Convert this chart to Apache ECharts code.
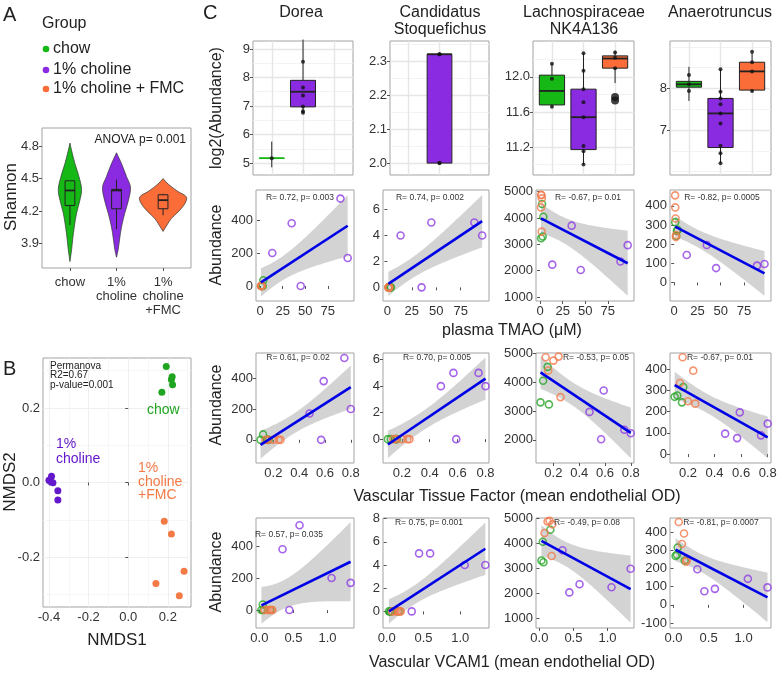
<!DOCTYPE html>
<html><head><meta charset="utf-8">
<script src="https://cdn.jsdelivr.net/npm/echarts@6/dist/echarts.min.js"></script>
<style>html,body{margin:0;padding:0;background:#fff}#main{width:780px;height:675px}</style>
</head><body><div id="main"></div>
<script>
// ================= DATA =================
const groupNames = ['chow', '1% choline', '1% choline + FMC'];
const violinLabels = ['chow', '1%\ncholine', '1%\ncholine\n+FMC'];

// Panel A: Shannon violins (level, relative density)
const violinChowLevels  = [3.73, 3.84, 3.93, 4.05, 4.18, 4.30, 4.40, 4.52, 4.64, 4.76, 4.83];
const violinChowDensity = [0, 5, 8, 13, 20, 30, 35, 27, 15, 5, 0];
const violinCholLevels  = [3.77, 3.84, 3.93, 4.05, 4.18, 4.30, 4.42, 4.52, 4.64, 4.70, 4.74];
const violinCholDensity = [0, 5, 9, 15, 25, 36, 42, 30, 15, 6, 0];
const violinFmcLevels   = [4.01, 4.07, 4.13, 4.19, 4.27, 4.33, 4.38, 4.45, 4.50];
const violinFmcDensity  = [0, 12, 25, 45, 66, 70, 45, 15, 0];
const shannonBoxChow = [4.07, 4.25, 4.39, 4.48, 4.48];
const shannonBoxChol = [4.03, 4.22, 4.39, 4.40, 4.49];
const shannonBoxFmc  = [4.16, 4.22, 4.30, 4.35, 4.36];
const anovaText = 'ANOVA p= 0.001';

// Panel B: NMDS
const nmdsChow    = [[0.192, 0.311], [0.222, 0.284], [0.218, 0.276], [0.224, 0.262], [0.170, 0.242]];
const nmdsCholine = [[-0.400, 0.006], [-0.387, 0.017], [-0.392, 0.003], [-0.380, -0.001], [-0.355, -0.022], [-0.355, -0.047]];
const nmdsFmc     = [[0.182, -0.104], [0.218, -0.138], [0.282, -0.238], [0.140, -0.271], [0.258, -0.304]];
const permanovaLines = ['Permanova', 'R2=0.67', 'p-value=0.001'];

// Panel C
const taxa = ['Dorea', 'Candidatus\nStoquefichus', 'Lachnospiraceae\nNK4A136', 'Anaerotruncus'];
// top row boxplots: [min, Q1, median, Q3, max] per group (null = absent)
const boxDorea   = [[4.85, 5.165, 5.17, 5.175, 5.75], [6.75, 6.97, 7.50, 7.90, 9.33], null];
const dotsDorea  = [[5.17], [9.33, 8.55, 7.65, 7.37, 6.98, 6.82, 6.76], []];
const boxStoq    = [null, [2.00, 2.00, 2.32, 2.32, 2.32], null];
const dotsStoq   = [[], [2.32, 2.32, 2.00, 2.00], []];
const boxLachno  = [[11.66, 11.68, 11.84, 12.02, 12.15], [11.00, 11.17, 11.54, 11.86, 12.27], [11.93, 12.10, 12.21, 12.24, 12.30]];
const dotsLachno = [[12.15, 11.98, 11.66], [12.27, 12.07, 11.86, 11.71, 11.54, 11.21, 11.15, 11.00], [12.22, 12.10, 12.28]];
const outliersLachno = [[], [], [11.73, 11.77]];
const boxAnaero  = [[7.70, 8.03, 8.10, 8.17, 8.52], [6.20, 6.58, 7.40, 7.76, 8.46], [7.92, 7.96, 8.41, 8.63, 8.88]];
const dotsAnaero = [[8.32, 8.10, 7.94], [8.46, 7.92, 7.76, 7.62, 7.40, 7.16, 6.62, 6.44, 6.20], [8.88, 8.63, 8.41, 7.94]];

// per-mouse predictors
const tmaoChow = [2.2, 3.6, 2.9, 1.1];
const tfChow   = [0.155, 0.12, 0.10, 0.165];
const vcamChow = [0.16, 0.05, 0.03, 0.06];
const tmaoChol = [13.5, 35, 45, 89, 97];
const tfChol   = [0.80, 0.59, 0.57, 0.75, 0.48];
const vcamChol = [1.06, 0.34, 0.44, 0.59, 1.34];
const tmaoFmc  = [1.5, 1.0, 2.0, 1.2, 1.8];
const tfFmc    = [0.14, 0.16, 0.20, 0.24, 0.255];
const vcamFmc  = [0.12, 0.075, 0.19, 0.15, 0.18];
// per-mouse abundances
const doreaChow  = [0, 35, 0, 0];
const stoqChow   = [0, 0, 0, 0];
const lachnoChow = [4530, 4050, 3300, 3230];
const anaeroChow = [243, 275, 269, 315];
const doreaChol  = [200, 380, 0, 530, 170];
const stoqChol   = [4, 0, 5, 5, 4];
const lachnoChol = [2230, 3710, 2025, 2350, 2970];
const anaeroChol = [143, 196, 75, 88, 96];
const doreaFmc   = [0, 0, 0, 0, 0];
const stoqFmc    = [0, 0, 0, 0, 0];
const lachnoFmc  = [4862, 4402, 4747, 4885, 3483];
const anaeroFmc  = [334, 455, 248, 392, 237];

const statsTMAO = ['R= 0.72, p= 0.003', 'R= 0.74, p= 0.002', 'R= -0.67, p= 0.01', 'R= -0.82, p= 0.0005'];
const statsTF   = ['R= 0.61, p= 0.02', 'R= 0.70, p= 0.005', 'R= -0.53, p= 0.05', 'R= -0.67, p= 0.01'];
const statsVCAM = ['R= 0.57, p= 0.035', 'R= 0.75, p= 0.001', 'R= -0.49, p= 0.08', 'R= -0.81, p= 0.0007'];
const xTitles = ['plasma TMAO (\u03bcM)', 'Vascular Tissue Factor (mean endothelial OD)', 'Vascular VCAM1 (mean endothelial OD)'];

// ================= STYLE =================
const FONT = 'Liberation Sans, Arial, Helvetica, sans-serif';
const FILL = ['#16b816', '#8a2be2', '#fa6c38'];
const PT   = ['#27a527', '#8f3de3', '#f27a4c'];
const NMDS = ['#1fa51f', '#6418cc', '#f47a45'];
const BAND = 'rgba(150,150,150,0.42)';

const option = {animation: false, grid: [], xAxis: [], yAxis: [], series: [], graphic: {elements: []}};
const G = option.graphic.elements;

function addGrid(l, t, w, h) {
  option.grid.push({left: l, top: t, width: w, height: h, show: true, borderColor: '#a3a3a3', borderWidth: 1, backgroundColor: 'rgba(0,0,0,0)'});
  return option.grid.length - 1;
}
function addAxis(kind, g, min, max, majors, fmt, o) {
  o = o || {};
  const list = kind === 'x' ? option.xAxis : option.yAxis;
  list.push({
    type: 'value', gridIndex: g, position: kind === 'x' ? 'bottom' : 'left', min: min, max: max,
    axisLine: {show: false},
    axisTick: {show: o.ticks !== false, length: 3, lineStyle: {color: '#555'}, customValues: majors},
    axisLabel: {show: o.labels !== false, customValues: majors, formatter: fmt, color: '#333', fontSize: o.fontSize || 13,
      fontFamily: FONT, margin: o.margin == null ? 3 : o.margin, lineHeight: o.lineHeight || 15},
    splitLine: {show: !!o.grid, lineStyle: {color: o.gridColor || '#e6e6e6', width: o.gridWidth || 1.4}}
  });
  const idx = list.length - 1;
  if (o.minors) {
    list.push({type: 'value', gridIndex: g, position: kind === 'x' ? 'top' : 'right', min: min, max: max,
      axisLine: {show: false}, axisTick: {show: false, customValues: o.minors}, axisLabel: {show: false},
      splitLine: {show: true, lineStyle: {color: o.minorColor || '#f0f0f0', width: o.minorWidth || 0.8}}});
  }
  return idx;
}
function text(x, y, str, size, opts) {
  opts = opts || {};
  G.push({type: 'text', x: x, y: y, rotation: opts.rot || 0, silent: true, z: 100,
    style: {text: str, fontSize: size, fontFamily: FONT, fill: opts.color || '#222', align: opts.align || 'center',
      verticalAlign: opts.va || 'middle', lineHeight: opts.lh || Math.round(size * 1.15)}});
}
const f0 = v => String(Math.round(v));
const f1 = v => (Math.abs(v) < 1e-9 ? 0 : v).toFixed(1);

// ggplot-like box (no whisker caps); item: [x, min, q1, med, q3, max, group]
function boxSeries(xi, yi, items, widthUnits, filled, z) {
  return {
    type: 'custom', xAxisIndex: xi, yAxisIndex: yi, z: z || 3, silent: true, data: items,
    renderItem: (params, api) => {
      const x = api.value(0), k = api.value(6);
      const pMin = api.coord([x, api.value(1)]), pQ1 = api.coord([x, api.value(2)]);
      const pMed = api.coord([x, api.value(3)]), pQ3 = api.coord([x, api.value(4)]), pMax = api.coord([x, api.value(5)]);
      const hw = api.size([widthUnits, 0])[0] / 2, cx = pMed[0];
      const h = pQ1[1] - pQ3[1];
      const fill = filled ? FILL[k] : 'rgba(0,0,0,0)';
      const boxStroke = (filled && h < 2) ? FILL[k] : '#222';
      return {type: 'group', children: [
        {type: 'line', shape: {x1: cx, y1: pMax[1], x2: cx, y2: pQ3[1]}, style: {stroke: '#222', lineWidth: 1}},
        {type: 'line', shape: {x1: cx, y1: pQ1[1], x2: cx, y2: pMin[1]}, style: {stroke: '#222', lineWidth: 1}},
        {type: 'rect', shape: {x: cx - hw, y: pQ3[1], width: 2 * hw, height: Math.max(h, 0.5)}, style: {fill: fill, stroke: boxStroke, lineWidth: 1}},
        {type: 'line', shape: {x1: cx - hw, y1: pMed[1], x2: cx + hw, y2: pMed[1]}, style: {stroke: boxStroke, lineWidth: h < 2 ? 1.6 : 1.8}}
      ]};
    }
  };
}

// ================= PANEL A =================
const gA = addGrid(42, 128, 149, 140);
const xA = addAxis('x', gA, 0.4, 3.6, [1, 2, 3], v => violinLabels[Math.round(v) - 1], {lineHeight: 14, margin: 7});
const yA = addAxis('y', gA, 3.67, 4.97, [3.9, 4.2, 4.5, 4.8], f1);
const violins = [[violinChowLevels, violinChowDensity], [violinCholLevels, violinCholDensity], [violinFmcLevels, violinFmcDensity]];
const violinMax = Math.max(...violinChowDensity, ...violinCholDensity, ...violinFmcDensity);
option.series.push({
  type: 'custom', xAxisIndex: xA, yAxisIndex: yA, z: 2, silent: true,
  data: [[1, 4.3], [2, 4.3], [3, 4.3]],
  renderItem: (params, api) => {
    const k = Math.round(api.value(0));
    const lv = violins[k - 1][0], dn = violins[k - 1][1];
    const unit = api.size([1, 0])[0];
    const cx = api.coord([k, lv[0]])[0];
    const right = [], left = [];
    for (let i = 0; i < lv.length; i++) {
      const y = api.coord([k, lv[i]])[1];
      const hw = dn[i] / violinMax * 0.5 * unit;
      right.push([cx + hw, y]); left.push([cx - hw, y]);
    }
    return {type: 'polygon', shape: {points: right.concat(left.reverse()), smooth: 0.35},
      style: {fill: FILL[k - 1], stroke: '#333', lineWidth: 0.7}};
  }
});
option.series.push(boxSeries(xA, yA,
  [[1].concat(shannonBoxChow, [0]), [2].concat(shannonBoxChol, [1]), [3].concat(shannonBoxFmc, [2])], 0.21, false, 3));

// ================= PANEL B =================
const gB = addGrid(43, 358, 148, 249);
const xB = addAxis('x', gB, -0.43, 0.317, [-0.4, -0.2, 0, 0.2], f1,
  {grid: true, gridColor: '#ededed', gridWidth: 0.9, minors: [-0.3, -0.1, 0.1, 0.3], minorColor: '#f5f5f5'});
const yB = addAxis('y', gB, -0.334, 0.334, [-0.2, 0, 0.2], f1,
  {grid: true, gridColor: '#ededed', gridWidth: 0.9, minors: [-0.3, -0.1, 0.1, 0.3], minorColor: '#f5f5f5'});
[nmdsChow, nmdsCholine, nmdsFmc].forEach((d, k) => option.series.push({
  type: 'scatter', name: groupNames[k], xAxisIndex: xB, yAxisIndex: yB, data: d, symbolSize: 7, z: 3, silent: true,
  itemStyle: {color: NMDS[k], opacity: 1}
}));

// ================= PANEL C, row 1 =================
const row1 = [
  {box: boxDorea, dots: dotsDorea, out: null, l: 253, w: 100, min: 4.58, max: 9.28, maj: [5, 6, 7, 8, 9], mnr: [5.5, 6.5, 7.5, 8.5], fmt: f0},
  {box: boxStoq, dots: dotsStoq, out: null, l: 390, w: 99, min: 1.965, max: 2.359, maj: [2.0, 2.1, 2.2, 2.3], mnr: [2.05, 2.15, 2.25, 2.35], fmt: f1},
  {box: boxLachno, dots: dotsLachno, out: outliersLachno, l: 533, w: 101, min: 10.88, max: 12.41, maj: [11.2, 11.6, 12.0], mnr: [11.0, 11.4, 11.8, 12.2], fmt: f1},
  {box: boxAnaero, dots: dotsAnaero, out: null, l: 670, w: 101, min: 5.92, max: 9.14, maj: [7, 8], mnr: [6, 6.5, 7.5, 8.5, 9], fmt: f0}
];
row1.forEach(p => {
  const g = addGrid(p.l, 41, p.w, 134);
  const xi = addAxis('x', g, 0.4, 3.6, [1, 2, 3], () => '', {labels: false, ticks: false, grid: true});
  const yi = addAxis('y', g, p.min, p.max, p.maj, p.fmt, {grid: true, minors: p.mnr});
  const items = [];
  p.box.forEach((b, k) => { if (b) items.push([k + 1].concat(b, [k])); });
  option.series.push(boxSeries(xi, yi, items, 0.8, true, 2));
  const pts = [];
  p.dots.forEach((arr, k) => arr.forEach(v => pts.push([k + 1, v])));
  option.series.push({type: 'scatter', xAxisIndex: xi, yAxisIndex: yi, z: 3, symbolSize: 4, silent: true, data: pts, itemStyle: {color: '#111'}});
  if (p.out) {
    const o = [];
    p.out.forEach((arr, k) => arr.forEach(v => o.push([k + 1, v])));
    option.series.push({type: 'scatter', xAxisIndex: xi, yAxisIndex: yi, z: 3, symbolSize: 8, silent: true, data: o, itemStyle: {color: '#111'}});
  }
});

// ================= PANEL C, scatter rows =================
const xsets = [[tmaoChow, tmaoChol, tmaoFmc], [tfChow, tfChol, tfFmc], [vcamChow, vcamChol, vcamFmc]];
const ysets = [[doreaChow, doreaChol, doreaFmc], [stoqChow, stoqChol, stoqFmc], [lachnoChow, lachnoChol, lachnoFmc], [anaeroChow, anaeroChol, anaeroFmc]];
const statsRows = [statsTMAO, statsTF, statsVCAM];
const T975 = {10: 2.228, 11: 2.201, 12: 2.179, 13: 2.160, 14: 2.145, 15: 2.131};

const lefts = [256, 383, 536, 670], widths = [98, 106, 98, 101];
const rowsCfg = [
  {top: 190, h: 111, xmin: -4.5, xmax: 104, xmaj: [0, 25, 50, 75], xfmt: f0,
   y: [[-91, 582, [0, 200, 400]], [-1.05, 7.5, [0, 2, 4, 6]], [850, 5063, [1000, 2000, 3000, 4000, 5000]], [-97, 483, [0, 100, 200, 300, 400]]],
   stat: [[300, 198], [430, 198], [588, 198], [722, 198]]},
  {top: 353, h: 110, xmin: 0.065, xmax: 0.825, xmaj: [0.2, 0.4, 0.6, 0.8], xfmt: f1,
   y: [[-150, 562, [0, 200, 400]], [-1.8, 6.5, [0, 2, 4, 6]], [1200, 5010, [2000, 3000, 4000, 5000]], [-42, 475, [0, 100, 200, 300, 400]]],
   stat: [[298, 358], [437, 358], [596, 358], [720, 358]]},
  {top: 518, h: 110, xmin: -0.05, xmax: 1.39, xmaj: [0, 0.5, 1.0], xfmt: f1,
   y: [[-112, 575, [0, 200, 400]], [-1.43, 8.05, [0, 2, 4, 6, 8]], [600, 5000, [1000, 2000, 3000, 4000, 5000]], [-127, 477, [-100, 0, 100, 200, 300, 400]]],
   stat: [[289, 535], [429, 523], [587, 523], [721, 523]]}
];

function fit(xs, ys) {
  const n = xs.length;
  const mx = xs.reduce((a, b) => a + b, 0) / n, my = ys.reduce((a, b) => a + b, 0) / n;
  let sxx = 0, sxy = 0;
  for (let i = 0; i < n; i++) { sxx += (xs[i] - mx) ** 2; sxy += (xs[i] - mx) * (ys[i] - my); }
  const b = sxy / sxx, a = my - b * mx;
  let sse = 0;
  for (let i = 0; i < n; i++) sse += (ys[i] - a - b * xs[i]) ** 2;
  const s = Math.sqrt(sse / (n - 2));
  return {a, b, s, mx, sxx, n, t: T975[n - 2] || 2.179};
}

rowsCfg.forEach((rc, r) => {
  for (let c = 0; c < 4; c++) {
    const g = addGrid(lefts[c], rc.top, widths[c], rc.h);
    const xi = addAxis('x', g, rc.xmin, rc.xmax, rc.xmaj, rc.xfmt);
    const yc = rc.y[c];
    const yi = addAxis('y', g, yc[0], yc[1], yc[2], f0);
    const allX = [], allY = [];
    for (let k = 0; k < 3; k++) {
      const xs = xsets[r][k], ys = ysets[c][k];
      xs.forEach((v, i) => { allX.push(v); allY.push(ys[i]); });
    }
    const F = fit(allX, allY);
    const x0 = Math.min(...allX), x1 = Math.max(...allX);
    const band = [];
    const N = 60;
    for (let i = 0; i <= N; i++) {
      const x = x0 + (x1 - x0) * i / N;
      const yh = F.a + F.b * x;
      const se = F.s * Math.sqrt(1 / F.n + (x - F.mx) ** 2 / F.sxx);
      band.push([x, yh - F.t * se, yh + F.t * se]);
    }
    option.series.push({
      type: 'custom', xAxisIndex: xi, yAxisIndex: yi, z: 2, silent: true, clip: true,
      data: [[band[0][0], band[0][1]]],
      renderItem: (params, api) => {
        const up = band.map(b => api.coord([b[0], b[2]]));
        const lo = band.slice().reverse().map(b => api.coord([b[0], b[1]]));
        return {type: 'polygon', shape: {points: up.concat(lo)}, style: {fill: BAND}};
      }
    });
    for (let k = 0; k < 3; k++) {
      const xs = xsets[r][k], ys = ysets[c][k];
      option.series.push({
        type: 'scatter', xAxisIndex: xi, yAxisIndex: yi, z: 3, symbolSize: 7, silent: true,
        data: xs.map((v, i) => [v, ys[i]]),
        itemStyle: {color: 'rgba(255,255,255,0)', borderColor: PT[k], borderWidth: 1.6}
      });
    }
    option.series.push({
      type: 'line', xAxisIndex: xi, yAxisIndex: yi, z: 4, silent: true, showSymbol: false, symbol: 'none',
      data: [[x0, F.a + F.b * x0], [x1, F.a + F.b * x1]],
      lineStyle: {color: '#0000e6', width: 2.6}
    });
    text(rc.stat[c][0], rc.stat[c][1], statsRows[r][c], 8.5, {color: '#333'});
  }
});

// ================= TEXTS =================
text(3, 15, 'A', 20, {align: 'left'});
text(3, 369, 'B', 20, {align: 'left'});
text(203, 13, 'C', 20, {align: 'left'});
text(42, 24, 'Group', 16, {align: 'left'});
[49, 70, 89].forEach((y, k) => {
  G.push({type: 'circle', shape: {cx: 46, cy: y, r: 3.3}, style: {fill: FILL[k]}, silent: true});
  text(53, y, groupNames[k], 16, {align: 'left'});
});
text(186, 140, anovaText, 12, {align: 'right'});
text(11, 197, 'Shannon', 17, {rot: Math.PI / 2});

text(50, 361, permanovaLines.join('\n'), 10, {align: 'left', lh: 9.5, va: 'top'});
text(147, 410, 'chow', 14, {align: 'left', color: NMDS[0]});
text(56, 452, '1%\ncholine', 14, {align: 'left', color: NMDS[1], lh: 15});
text(138, 482, '1%\ncholine\n+FMC', 14, {align: 'left', color: NMDS[2], lh: 13.5});
text(117, 640, 'NMDS1', 17);
text(10, 482, 'NMDS2', 17, {rot: Math.PI / 2});

const titleX = [301, 440, 584, 720];
taxa.forEach((t, c) => {
  const two = t.indexOf('\n') >= 0;
  text(titleX[c], two ? 21 : 13, t, 16, {lh: 17});
});
text(217, 108, 'log2(Abundance)', 16, {rot: Math.PI / 2});
[245, 405, 572].forEach(y => text(217, y, 'Abundance', 16, {rot: Math.PI / 2}));
text(512, 331, xTitles[0], 16);
text(517, 497, xTitles[1], 16);
text(512, 663, xTitles[2], 16);

const chart = echarts.init(document.getElementById('main'), null, {renderer: 'canvas'});
chart.setOption(option);
</script>
</body></html>
